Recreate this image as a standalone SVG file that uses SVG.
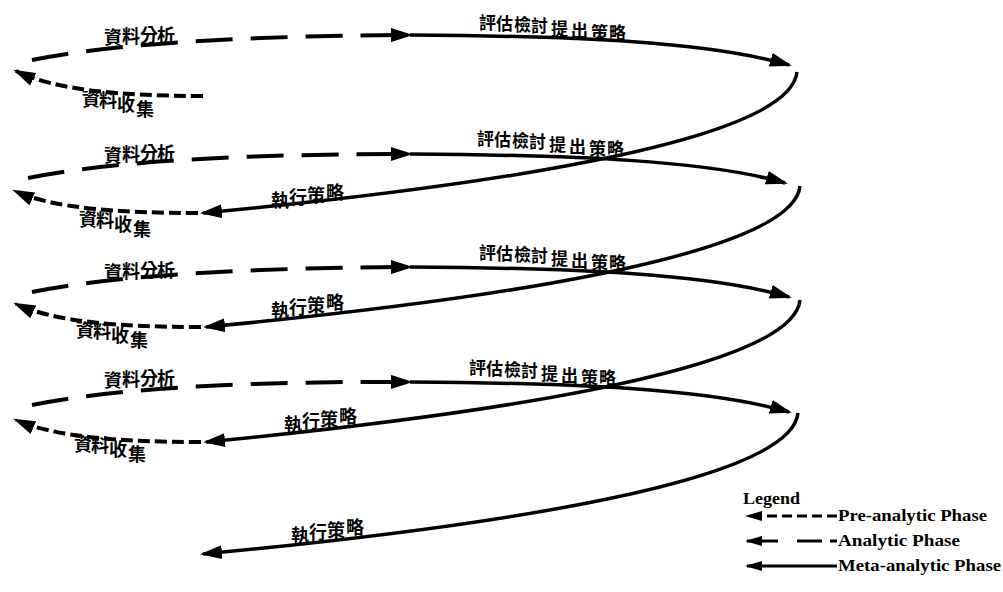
<svg xmlns="http://www.w3.org/2000/svg" width="1003" height="592" viewBox="0 0 1003 592">
<style>
.ln{fill:none;stroke:#000;}
.meta{stroke-width:3.5;}
.ana{stroke-width:4;stroke-dasharray:37 18;}
.pre{stroke-width:4;stroke-dasharray:12 5;}
.cjk{font-family:"Noto Sans CJK TC","Noto Sans CJK SC",sans-serif;font-weight:bold;fill:#000;}
.lg{font-family:"Liberation Serif","Times New Roman",serif;font-weight:bold;font-size:16px;fill:#000;}
</style>
<defs>
<marker id="ah" viewBox="0 0 22 14" refX="19" refY="7" markerWidth="22" markerHeight="14" markerUnits="userSpaceOnUse" orient="auto"><path d="M0,0 L22,7 L0,14 z" fill="#000"/></marker>
<marker id="ahs" viewBox="0 0 17 10" refX="15" refY="5" markerWidth="17" markerHeight="10" markerUnits="userSpaceOnUse" orient="auto"><path d="M0,0 L17,5 L0,10 z" fill="#000"/></marker>
</defs>
<rect width="1003" height="592" fill="#fff"/>
<g id="connectors">
<!-- analytic phase (dashed) -->
<path class="ln ana" d="M32,60 C100,46 220,36 410,35" marker-end="url(#ah)"/>
<path class="ln ana" d="M28,178 C96,164 216,154 410,154" marker-end="url(#ah)"/>
<path class="ln ana" d="M32,292 C100,278 220,268 410,267" marker-end="url(#ah)"/>
<path class="ln ana" d="M32,405 C100,391 220,381 410,382" marker-end="url(#ah)"/>
<!-- meta-analytic: evaluation -->
<path class="ln meta" d="M410,35 C580,36 710,42 789,65" marker-end="url(#ah)"/>
<path class="ln meta" d="M410,154 C580,155 710,161 785,183" marker-end="url(#ah)"/>
<path class="ln meta" d="M410,267 C580,268 710,274 789,297" marker-end="url(#ah)"/>
<path class="ln meta" d="M410,382 C580,383 710,389 789,412" marker-end="url(#ah)"/>
<!-- meta-analytic: execute strategy -->
<path class="ln meta" d="M797,72 C790,140 500,185 203,213" marker-end="url(#ah)"/>
<path class="ln meta" d="M800,186 C793,254 503,299 206,327" marker-end="url(#ah)"/>
<path class="ln meta" d="M800,300 C793,368 503,413 206,442" marker-end="url(#ah)"/>
<path class="ln meta" d="M798,413 C791,481 501,526 203,554" marker-end="url(#ah)"/>
<!-- pre-analytic (short dashes) -->
<path class="ln pre" d="M203,96 C120,96 55,90 16,71" marker-end="url(#ah)"/>
<path class="ln pre" d="M198,213 C117,213 52,208 15,191" marker-end="url(#ah)"/>
<path class="ln pre" d="M201,327 C120,327 55,322 16,304" marker-end="url(#ah)"/>
<path class="ln pre" d="M201,442 C120,442 55,437 16,420" marker-end="url(#ah)"/>
</g>
<g id="labels-analysis" class="cjk" font-size="18">
<text x="104 122 140 157" y="44 43 42 42">資料分析</text>
<text x="104 122 140 157" y="162 161 160 160">資料分析</text>
<text x="104 122 140 157" y="278.5 277.5 276.5 276.5">資料分析</text>
<text x="104 122 140 157" y="387 386 385 385">資料分析</text>
</g>
<g id="labels-collect" class="cjk" font-size="18">
<text x="82 99 117 136" y="106 107 111 116">資料收集</text>
<text x="79 96 114 133" y="226 227 231 236">資料收集</text>
<text x="76 93 111 130" y="337 338 342 347">資料收集</text>
<text x="74 91 109 128" y="451 452 456 461">資料收集</text>
</g>
<g id="labels-evaluate" class="cjk" font-size="17">
<text x="479 496 514 531 551 571 591 609" y="29 30 31 32 35 37 39 39">評估檢討提出策略</text>
<text x="477 494 512 529 549 569 589 607" y="145 146 147 148 151 153 155 155">評估檢討提出策略</text>
<text x="479 496 514 531 551 571 591 609" y="259 260 261 262 265 267 269 269">評估檢討提出策略</text>
<text x="469 486 504 521 541 561 581 599" y="374 375 376 377 380 382 384 384">評估檢討提出策略</text>
</g>
<g id="labels-execute" class="cjk" font-size="18">
<text x="271 289 307 326" y="207 204 202 199">執行策略</text>
<text x="271 289 307 326" y="317 314 312 309">執行策略</text>
<text x="284 302 320 339" y="431 428 426 423">執行策略</text>
<text x="291 309 327 346" y="542 539 537 534">執行策略</text>
</g>
<g id="legend">
<text class="lg" x="743" y="504" textLength="57" lengthAdjust="spacingAndGlyphs">Legend</text>
<path class="ln" stroke-width="3" stroke-dasharray="10 5" d="M837,516 L747,516" marker-end="url(#ahs)"/>
<text class="lg" x="838" y="521" textLength="149" lengthAdjust="spacingAndGlyphs">Pre-analytic Phase</text>
<path class="ln" stroke-width="3" d="M837,541 L830,541 M822,541 L797,541"/>
<path class="ln" stroke-width="3" d="M778,541 L747,541" marker-end="url(#ahs)"/>
<text class="lg" x="838" y="546" textLength="122" lengthAdjust="spacingAndGlyphs">Analytic Phase</text>
<path class="ln" stroke-width="3" d="M837,566 L747,566" marker-end="url(#ahs)"/>
<text class="lg" x="838" y="571" textLength="163" lengthAdjust="spacingAndGlyphs">Meta-analytic Phase</text>
</g>
</svg>
